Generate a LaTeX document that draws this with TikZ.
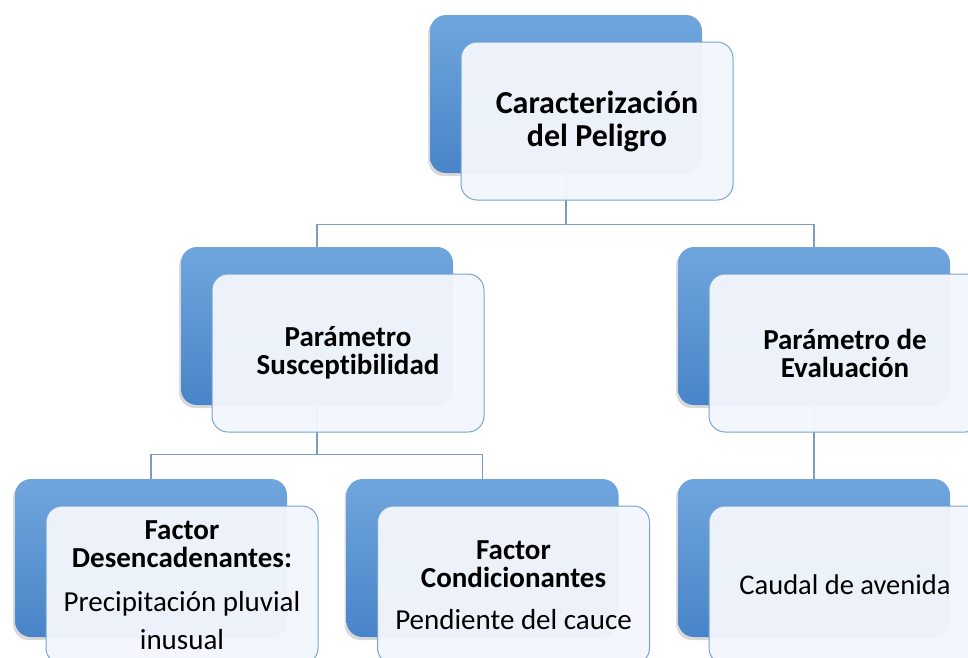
\documentclass[tikz,border=0pt]{standalone}
\usepackage{fontspec}
\setmainfont{Carlito}[Ligatures=NoCommon]
\usetikzlibrary{shadows}

\definecolor{boxblue}{RGB}{112,166,222}
\definecolor{boxbluedark}{RGB}{72,132,200}
\definecolor{frontfill}{RGB}{243,246,252}
\definecolor{frontline}{RGB}{118,164,212}
\definecolor{linkline}{RGB}{125,155,195}

\begin{document}
\begin{tikzpicture}[x=1pt, y=-1pt,
		backnode/.style={rectangle, rounded corners=16pt, minimum width=272pt, minimum height=158pt,
				top color=boxblue, bottom color=boxbluedark,
				drop shadow={opacity=0.3, shadow xshift=-2pt, shadow yshift=-3pt}},
		frontnode/.style={rectangle, rounded corners=16pt, minimum width=272pt, minimum height=158pt,
				fill=frontfill, fill opacity=0.96, text opacity=1, draw=frontline, line width=1pt, align=center},
		link/.style={draw=linkline, line width=1.2pt}
	]

	\def \ox {31}
	\def \oy {27}

	\useasboundingbox (0,0) rectangle (968,657);
	\clip (0,0) rectangle (968,657);

	% blue boxes behind
	\foreach \n/\x/\y in {peligro/566/94, suscep/317/326, evalua/814/326,
			desenc/151/558, condic/482.5/558, caudal/814/558} {
			\node[backnode] (\n) at (\x, \y) {};
		}

	% connectors
	\draw[link] (peligro.south) -- ++(0,51) -| (suscep.north);
	\draw[link] (peligro.south) -- ++(0,51) -| (evalua.north);
	\draw[link] (suscep.south) -- ++(0,49) -| (desenc.north);
	\draw[link] (suscep.south) -- ++(0,49) -| (condic.north);
	\draw[link] (evalua.south) -- (caudal.north);

	% white boxes in front
	\node[frontnode, font={\fontsize{32}{33}\selectfont\bfseries}] (peligro-f)
	at ([shift={(\ox,\oy)}]peligro.center) {Caracterización\\del Peligro};
	\node[frontnode, font={\fontsize{29}{28}\selectfont\bfseries}] (suscep-f)
	at ([shift={(\ox,\oy)}]suscep.center) {Parámetro\\Susceptibilidad};
	\node[frontnode, font={\fontsize{29}{28}\selectfont\bfseries}] (evalua-f)
	at ([shift={(\ox,\oy)}]evalua.center) {Parámetro de\\Evaluación};
	\node[frontnode, font={\fontsize{29}{28}\selectfont}] (desenc-f)
	at ([shift={(\ox,\oy)}]desenc.center)
	{\textbf{Factor}\\\textbf{Desencadenantes:}\\[16pt]Precipitación pluvial\\[10pt]inusual};
	\node[frontnode, font={\fontsize{29}{28}\selectfont}] (condic-f)
	at ([shift={(\ox,\oy)}]condic.center)
	{\textbf{Factor}\\\textbf{Condicionantes}\\[14pt]Pendiente del cauce};
	\node[frontnode, font={\fontsize{28.5}{28}\selectfont}] (caudal-f)
	at ([shift={(\ox,\oy)}]caudal.center) {Caudal de avenida};

\end{tikzpicture}
\end{document}
